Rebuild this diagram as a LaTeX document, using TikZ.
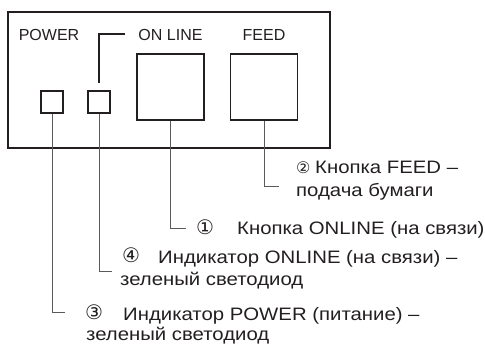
\documentclass[tikz,border=0pt]{standalone}
\usepackage{fontspec}
\setmainfont{Liberation Sans}
\newfontfamily\descfont[FakeStretch=1.13]{Liberation Sans}
\newfontfamily\circfont{DejaVu Sans}
\definecolor{ink}{HTML}{231F20}
\definecolor{leadc}{HTML}{5A5A5A}
\tikzset{
  panelbox/.style={draw=ink, line width=1.3pt, inner sep=0pt},
  keybox/.style={draw=ink, line width=1.3pt, inner sep=0pt, minimum width=67pt, minimum height=66pt},
  ledbox/.style={draw=ink, line width=1.3pt, inner sep=0pt, minimum size=22pt},
  lead/.style={draw=leadc, line width=0.7pt},
  brk/.style={draw=ink, line width=1.1pt},
  lbl/.style={inner sep=0pt, anchor=base, text=ink, font=\fontsize{16}{19}\selectfont},
  txt/.style={inner sep=0pt, anchor=base west, text=ink, font=\descfont\fontsize{18}{21}\selectfont},
  num/.style={inner sep=0pt, anchor=base west, text=ink, font=\circfont\fontsize{20}{22}\selectfont},
  numsmall/.style={inner sep=0pt, anchor=base west, text=ink, font=\circfont\fontsize{16}{18}\selectfont},
}
\begin{document}
\begin{tikzpicture}[x=1pt,y=1pt]
\useasboundingbox (0,0) rectangle (485,-345);
% panel
\node[panelbox, minimum width=322pt, minimum height=136pt] (panel) at (169,-80) {};
\node[lbl] (lpow) at (49,-41) {POWER};
\node[lbl] (lonl) at (170.5,-41) {ON LINE};
\node[lbl] (lfeed) at (264,-41) {FEED};
\node[ledbox] (ledp) at (52,-102) {};
\node[ledbox] (ledo) at (99,-102) {};
\node[keybox] (bon) at (170.5,-87) {};
\node[keybox] (bfeed) at (264,-87) {};
% bracket from ON LINE label to LED
\coordinate (bk1) at (125,-34);
\coordinate (bk2) at (99,-83);
\draw[brk] (bk1) -| (bk2);
% leader ends
\coordinate (ep) at (65,-312);
\coordinate (eo) at (112,-271);
\coordinate (eb) at (186,-228);
\coordinate (ef) at (279,-186);
\draw[lead] (ledp.south) |- (ep);
\draw[lead] (ledo.south) |- (eo);
\draw[lead] (bon.south) |- (eb);
\draw[lead] (bfeed.south) |- (ef);
% texts
\node[numsmall] (n2) at (296,-173) {②};
\node[txt] (t2a) at (315,-173.5) {Кнопка FEED –};
\node[txt] (t2b) at (296,-196.5) {подача бумаги};
\node[num] (n1) at (196,-234) {①};
\node[txt] (t1) at (237,-234.5) {Кнопка ONLINE (на связи)};
\node[num] (n4) at (122,-262.5) {④};
\node[txt] (t4a) at (158,-263) {Индикатор ONLINE (на связи) –};
\node[txt] (t4b) at (120,-285) {зеленый светодиод};
\node[num] (n3) at (85,-319.5) {③};
\node[txt] (t3a) at (123,-320) {Индикатор POWER (питание) –};
\node[txt] (t3b) at (86,-340.5) {зеленый светодиод};
\end{tikzpicture}
\end{document}
